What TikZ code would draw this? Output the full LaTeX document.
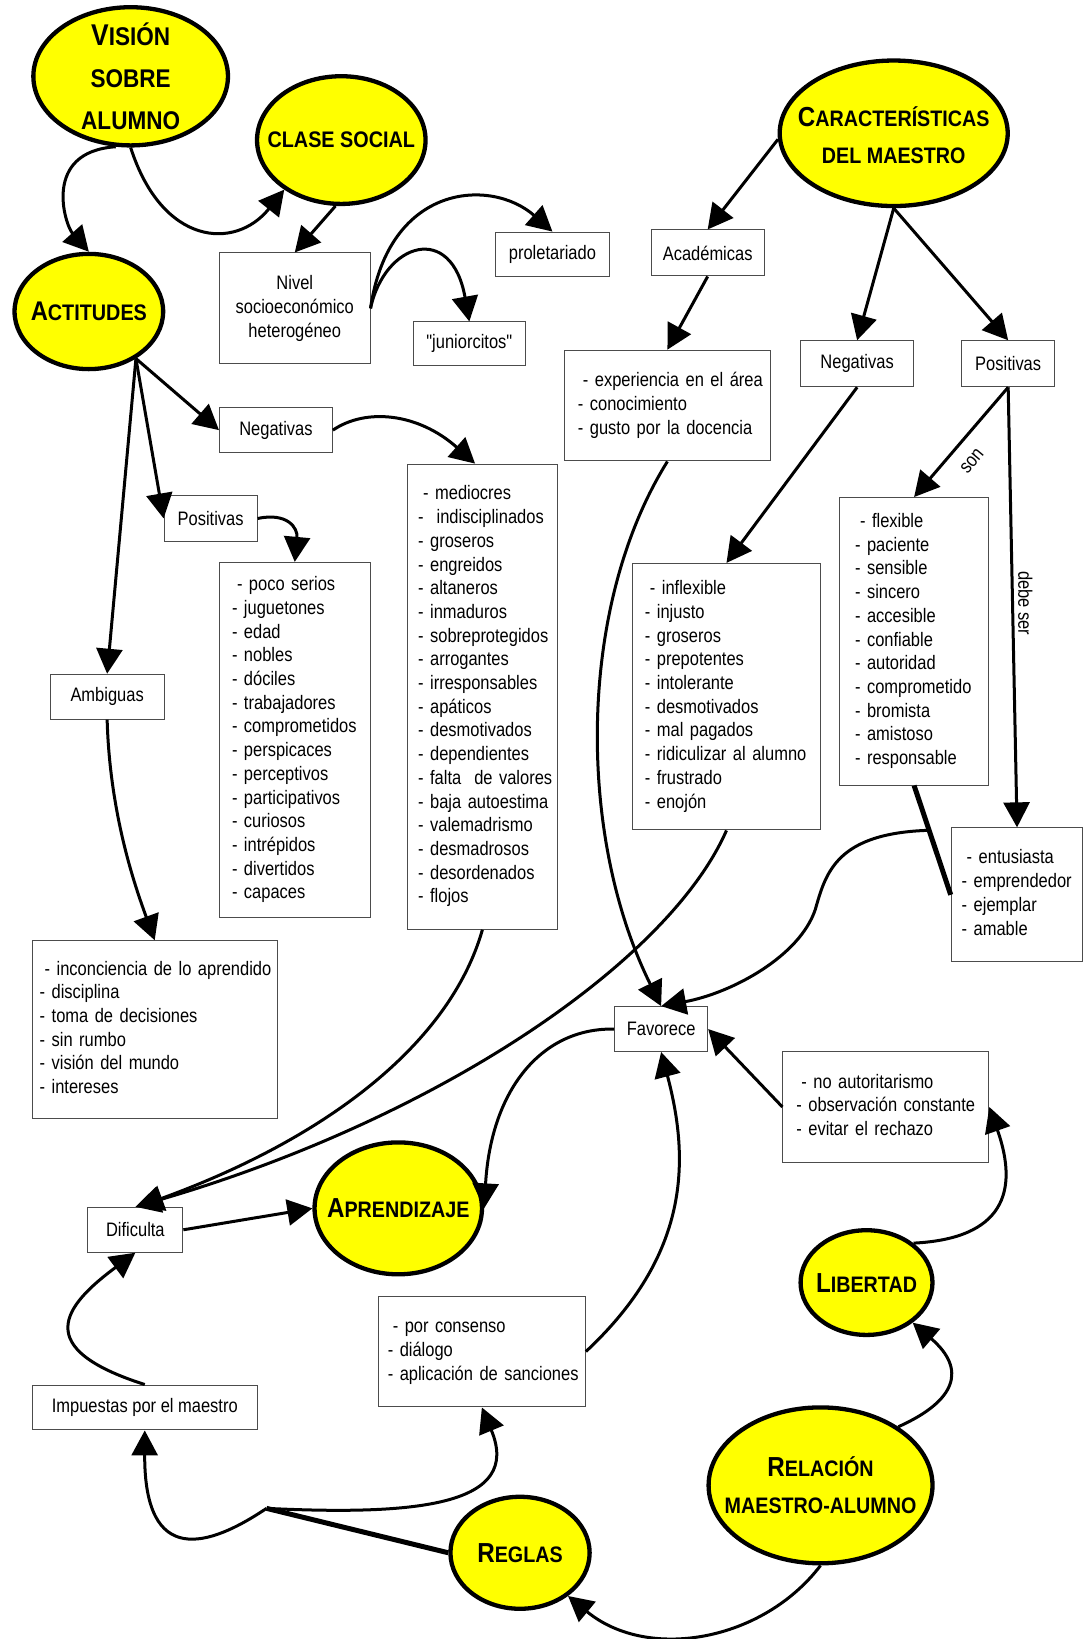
\documentclass[tikz,border=0pt]{standalone}
\usepackage{fontspec}
\setmainfont{Liberation Sans}[FakeStretch=0.845]
\newfontfamily\tf{Liberation Sans}[FakeStretch=0.88]
\newfontfamily\qfont{Liberation Sans}[FakeStretch=0.845, Ligatures=TeXOff]
\usetikzlibrary{arrows.meta,shapes.geometric,calc}
\definecolor{cyell}{RGB}{255,255,0}
\newcommand\Cap[2][27.5]{{\fontsize{#1}{30}\selectfont #2}}
\newcommand\mylist[1]{\begin{tabular}{@{}l@{}}#1\end{tabular}}
\tikzset{
  oval/.style={ellipse, draw=black, line width=4.3pt, fill=cyell, inner sep=0pt},
  otext/.style={inner sep=0pt, align=center, font=\tf\bfseries\fontsize{22.4}{36.6}\selectfont},
  cbox/.style={rectangle, draw=black!70, line width=1pt, fill=white, inner sep=0pt, align=center,
    font=\fontsize{19.5}{23.7}\selectfont},
  lbox/.style={cbox, align=left, inner ysep=0pt},
  conn/.style={line width=3pt, -{Triangle[length=25pt,width=26pt]}},
  heavy/.style={line width=5pt},
  lbl/.style={font=\fontsize{19.5}{23.7}\selectfont, inner sep=0pt}
}
\begin{document}
\begin{tikzpicture}[x=1.0452pt, y=-1.0452pt]
\fill[white] (0,0) rectangle (1040,1568);
\useasboundingbox (0,0) rectangle (1040,1568);

% ---------- ovals ----------
\node[oval, minimum width=194.6pt, minimum height=138.2pt] (vision) at (125,73) {};
\node[otext, font=\tf\bfseries\fontsize{25.6}{41.8}\selectfont] (visiontxt) at (vision.center)
  {\Cap[30]{V}ISIÓN\\SOBRE\\ALUMNO};
\node[oval, minimum width=168.5pt, minimum height=127.7pt] (clase) at (326.5,134) {};
\node[otext, font=\tf\bfseries\fontsize{22.5}{30}\selectfont] (clasetxt) at (clase.center) {CLASE SOCIAL};
\node[oval, minimum width=148.6pt, minimum height=115.2pt] (actitudes) at (85,298) {};
\node[otext, font=\tf\bfseries\fontsize{22.5}{30}\selectfont] (actitudestxt) at (actitudes.center) {\Cap[27]{A}CTITUDES};
\node[oval, minimum width=228pt, minimum height=145.5pt] (caract) at (855,127.5) {};
\node[otext] (caracttxt) at ([yshift=-2pt]caract.center) {\Cap{C}ARACTERÍSTICAS\\DEL MAESTRO};
\node[oval, minimum width=167.4pt, minimum height=131.9pt] (aprend) at (381,1156) {};
\node[otext] (aprendtxt) at (aprend.center) {\Cap{A}PRENDIZAJE};
\node[oval, minimum width=131.9pt, minimum height=104.7pt] (libertad) at (829,1227) {};
\node[otext] (libertadtxt) at (libertad.center) {\Cap{L}IBERTAD};
\node[oval, minimum width=223.9pt, minimum height=155.9pt] (relacion) at (785,1421) {};
\node[otext, font=\tf\bfseries\fontsize{22.4}{37.6}\selectfont] (relaciontxt) at (relacion.center)
  {\Cap{R}ELACIÓN\\MAESTRO-ALUMNO};
\node[oval, minimum width=139.2pt, minimum height=112pt] (reglas) at (497.5,1485.5) {};
\node[otext] (reglastxt) at (reglas.center) {\Cap{R}EGLAS};

% ---------- simple boxes ----------
\node[cbox, minimum width=150.5pt, minimum height=110.8pt] (nivel) at (282,295)
  {Nivel\\socioeconómico\\heterogéneo};
\node[cbox, minimum width=113.9pt, minimum height=44.9pt] (prolet) at (528.5,243.5) {proletariado};
\node[cbox, minimum width=112.5pt, minimum height=43.9pt] (junior) at (449,329) {{\qfont "juniorcitos"}};
\node[cbox, minimum width=112.9pt, minimum height=46pt] (academ) at (677,242) {Académicas};
\node[cbox, minimum width=112.9pt, minimum height=46pt] (mneg) at (820,348) {Negativas};
\node[cbox, minimum width=93pt, minimum height=46pt] (mpos) at (964.5,348) {Positivas};
\node[cbox, minimum width=112.9pt, minimum height=44.9pt] (aneg) at (264,411.5) {Negativas};
\node[cbox, minimum width=93pt, minimum height=46pt] (apos) at (201.5,496) {Positivas};
\node[cbox, minimum width=113.9pt, minimum height=44.9pt] (ambig) at (102.5,666.5) {Ambiguas};
\node[cbox, minimum width=93pt, minimum height=44.9pt] (favor) at (632.5,984.5) {Favorece};
\node[cbox, minimum width=95pt, minimum height=44.9pt] (dificulta) at (129.5,1176.5) {Dificulta};
\node[cbox, minimum width=224.7pt, minimum height=44.9pt] (impuestas) at (138.5,1346.5) {Impuestas por el maestro};

% ---------- list boxes ----------
\node[lbox, minimum width=205.9pt, minimum height=110.8pt, text width=179pt, inner xsep=13.4pt]
  (exper) at (638.5,388) {\mylist{\hspace*{5pt}- experiencia en el área\\- conocimiento\\- gusto por la docencia}};
\node[lbox, minimum width=150.5pt, minimum height=355.4pt, text width=125.5pt, inner xsep=12.5pt]
  (poslist) at (282,708) {\mylist{\hspace*{5pt}- poco serios\\- juguetones\\- edad\\- nobles\\- dóciles\\- trabajadores\\- comprometidos\\- perspicaces\\- perceptivos\\- participativos\\- curiosos\\- intrépidos\\- divertidos\\- capaces}};
\node[lbox, minimum width=149.5pt, minimum height=465.1pt, text width=128.5pt, inner xsep=10.5pt]
  (neglist) at (461.5,666.5) {\mylist{\hspace*{5pt}- mediocres\\-\ \ indisciplinados\\- groseros\\- engreidos\\- altaneros\\- inmaduros\\- sobreprotegidos\\- arrogantes\\- irresponsables\\- apáticos\\- desmotivados\\- dependientes\\- falta\ \ de valores\\- baja autoestima\\- valemadrismo\\- desmadrosos\\- desordenados\\- flojos}};
\node[lbox, minimum width=244.6pt, minimum height=177.7pt, text width=230pt, inner xsep=7.3pt]
  (amblist) at (148,985) {\mylist{\hspace*{5pt}- inconciencia de lo aprendido\\- disciplina\\- toma de decisiones\\- sin rumbo\\- visión del mundo\\- intereses}};
\node[lbox, minimum width=188.1pt, minimum height=266.5pt, text width=163.1pt, inner xsep=12.5pt]
  (mneglist) at (695,666.5) {\mylist{\hspace*{5pt}- inflexible\\- injusto\\- groseros\\- prepotentes\\- intolerante\\- desmotivados\\- mal pagados\\- ridiculizar al alumno\\- frustrado\\- enojón}};
\node[lbox, minimum width=149.5pt, minimum height=287.4pt, text width=118.1pt, inner xsep=15.7pt]
  (mposlist) at (874.5,613.5) {\mylist{\hspace*{5pt}- flexible\\- paciente\\- sensible\\- sincero\\- accesible\\- confiable\\- autoridad\\- comprometido\\- bromista\\- amistoso\\- responsable}};
\node[lbox, minimum width=131.7pt, minimum height=133.8pt, text width=110.7pt, inner xsep=10.5pt]
  (debeser) at (973,856) {\mylist{\hspace*{5pt}- entusiasta\\- emprendedor\\- ejemplar\\- amable}};
\node[lbox, minimum width=205.9pt, minimum height=110.8pt, text width=179pt, inner xsep=13.4pt]
  (noaut) at (847.5,1059) {\mylist{\hspace*{5pt}- no autoritarismo\\- observación constante\\- evitar el rechazo}};
\node[lbox, minimum width=207pt, minimum height=110.8pt, text width=188.2pt, inner xsep=9.4pt]
  (porcons) at (461,1293) {\mylist{\hspace*{5pt}- por consenso\\- diálogo\\- aplicación de sanciones}};

% ---------- connectors ----------
\draw[conn] (vision.258) .. controls (40,145) and (62,215) .. (actitudes.north);
\draw[conn] (vision.south) .. controls (155,235) and (225,240) .. (clase.221);
\draw[conn] (clase.265) -- (nivel.north);
\draw[conn] (nivel.east) .. controls (372,175) and (470,170) .. (prolet.north);
\draw[conn] (nivel.east) .. controls (368,232) and (432,212) .. (junior.north);

\draw[conn] (caract.183) -- (academ.north);
\draw[conn] (academ.south) -- (exper.north);
\draw[conn] (caract.south) -- (mneg.north);
\draw[conn] (caract.south) -- (mpos.north);
\draw[conn] (mneg.south) -- (mneglist.north);
\draw[conn] (mpos.south) -- (mposlist.north);
\draw[conn] (mpos.south) -- (debeser.north);
\node[lbl, rotate=50] (lson) at (930,441) {son};
\node[lbl, rotate=-90] (ldebe) at (981,577) {debe ser};
\draw[heavy] (mposlist.south) -- (debeser.west);
\coordinate (j1) at ($(mposlist.south)!0.41!(debeser.west)$);
\draw[conn] (j1) .. controls (800,797) and (790,835) .. (780,870)
  .. controls (765,915) and (700,950) .. (favor.north);
\draw[conn] (exper.south) .. controls (552,580) and (552,800) .. (favor.north);

\draw[conn] (mneglist.south) .. controls (640,920) and (420,1070) .. (dificulta.north);
\draw[conn] (neglist.south) .. controls (430,1000) and (310,1090) .. ([xshift=3pt]dificulta.north);
\draw[conn] (favor.west) .. controls (520,983) and (470,1040) .. (aprend.east);
\draw[conn] (dificulta.east) -- (aprend.west);
\draw[conn] (noaut.west) -- (favor.east);
\draw[conn] (porcons.east) .. controls (660,1200) and (660,1110) .. (favor.south);
\draw[conn] (libertad.40) .. controls (960,1185) and (975,1140) .. (noaut.east);
\draw[conn] (relacion.37) .. controls (915,1340) and (925,1310) .. (libertad.319);
\draw[conn] (relacion.south) .. controls (730,1570) and (620,1590) .. (reglas.318);
\coordinate (j2) at (255,1443);
\draw[heavy] (reglas.west) -- (j2);
\draw[conn] (j2) .. controls (200,1480) and (138,1500) .. (impuestas.south);
\draw[conn] (j2) .. controls (400,1450) and (500,1440) .. (porcons.south);
\draw[conn] (impuestas.north) .. controls (30,1290) and (60,1250) .. (dificulta.south);

\draw[conn] (actitudes.315) -- (aneg.west);
\draw[conn] (actitudes.315) -- (apos.west);
\draw[conn] (actitudes.315) -- (ambig.north);
\draw[conn] (aneg.east) .. controls (350,390) and (400,395) .. ([xshift=-7.3pt]neglist.north);
\draw[conn] (apos.east) .. controls (275,490) and (285,505) .. (poslist.north);
\draw[conn] (ambig.south) .. controls (105,780) and (130,850) .. (amblist.north);
\end{tikzpicture}
\end{document}
